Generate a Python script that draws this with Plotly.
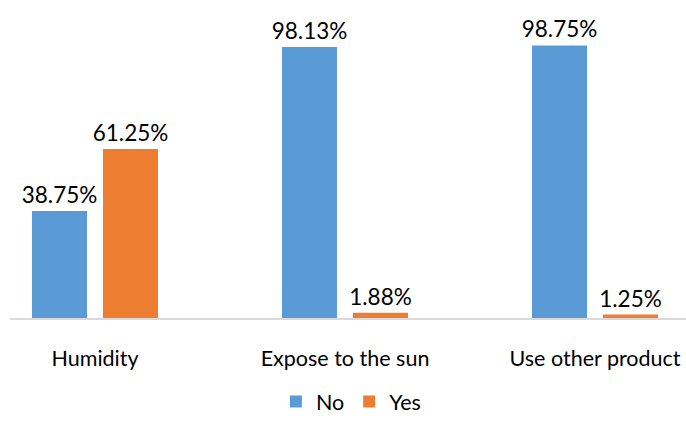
import plotly.graph_objects as go

categories = ["Humidity", "Expose to the sun", "Use other product"]
no_values = [38.75, 98.13, 98.75]
yes_values = [61.25, 1.88, 1.25]

FONT = "Lato"

def pct(vals):
    return [f"{v:.2f}%" for v in vals]

fig = go.Figure()
for name, vals, color in (("No", no_values, "#5B9BD5"), ("Yes", yes_values, "#ED7D31")):
    fig.add_trace(go.Bar(
        name=name, x=categories, y=vals, marker_color=color, marker_line_width=0,
        text=pct(vals), textposition="outside", cliponaxis=False, constraintext="none",
        textfont=dict(family=FONT, size=22.5, color="#000000"),
    ))

fig.update_layout(
    width=686, height=422,
    margin=dict(l=10, r=0, t=0, b=104, autoexpand=False),
    paper_bgcolor="white", plot_bgcolor="white",
    barmode="group", bargap=0.432, bargroupgap=0.225,
    font=dict(family=FONT, size=21.5, color="#000000"),
    showlegend=True,
    legend=dict(orientation="h", x=0.505, xanchor="center", yref="container",
                y=0.0, yanchor="bottom", font=dict(family=FONT, size=21.5),
                tracegroupgap=0),
    xaxis=dict(range=[-0.34, 2.364], showline=True, linecolor="#D9D9D9", linewidth=2,
               ticks="", showgrid=False, tickfont=dict(family=FONT, size=21.5),
               ticklabelstandoff=20, automargin=False),
    yaxis=dict(range=[0, 115.2], visible=False, showgrid=False, automargin=False),
)

fig.write_html("out.html")
